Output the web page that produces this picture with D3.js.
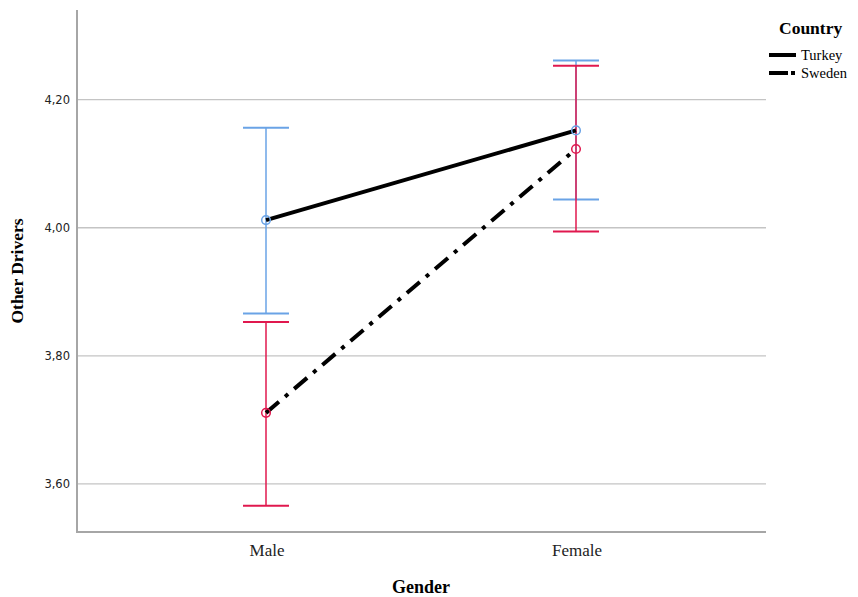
<!DOCTYPE html>
<html>
<head>
<meta charset="utf-8">
<script src="https://cdn.jsdelivr.net/npm/d3@7"></script>
<style>
  body { margin: 0; background: #fff; }
</style>
</head>
<body>
<script>
// data
const genders = ["Male", "Female"];
const countries = ["Turkey", "Sweden"];
const turkeyMean = [4.012, 4.152];
const turkeyLow = [3.866, 4.044];
const turkeyHigh = [4.156, 4.261];
const swedenMean = [3.711, 4.123];
const swedenLow = [3.566, 3.994];
const swedenHigh = [3.853, 4.253];
const yTicks = [3.6, 3.8, 4.0, 4.2];

const width = 858;
const height = 597;

const svg = d3.select("body")
  .append("svg")
  .attr("width", width)
  .attr("height", height);

// scales
const x = d3.scalePoint()
  .domain(genders)
  .range([266, 576]);

const y = d3.scaleLinear()
  .domain([3.525, 4.340])
  .range([532, 10]);

// gridlines
svg.append("g")
  .selectAll("line")
  .data(yTicks)
  .join("line")
  .attr("x1", 77)
  .attr("x2", 766)
  .attr("y1", d => y(d))
  .attr("y2", d => y(d))
  .style("stroke", "#c4c4c4")
  .style("stroke-width", 1.3);

// axes lines
svg.append("line")
  .attr("x1", 77).attr("x2", 77)
  .attr("y1", 10).attr("y2", 532)
  .style("stroke", "#a6a6a6")
  .style("stroke-width", 2);
svg.append("line")
  .attr("x1", 76).attr("x2", 766)
  .attr("y1", 532).attr("y2", 532)
  .style("stroke", "#a6a6a6")
  .style("stroke-width", 2);

// y tick labels
svg.append("g")
  .selectAll("text")
  .data(yTicks)
  .join("text")
  .attr("x", 70)
  .attr("y", d => y(d) + 4)
  .attr("text-anchor", "end")
  .style("font-family", "DejaVu Sans, sans-serif")
  .style("font-size", "11.5px")
  .style("fill", "#222")
  .text(d => d3.format(".2f")(d).replace(".", ","));

// x tick labels
svg.append("g")
  .selectAll("text")
  .data(genders)
  .join("text")
  .attr("x", d => x(d) + 1)
  .attr("y", 556)
  .attr("text-anchor", "middle")
  .style("font-family", "Liberation Serif, serif")
  .style("font-size", "17px")
  .style("fill", "#222")
  .text(d => d);

// axis titles
svg.append("text")
  .attr("x", 421)
  .attr("y", 593)
  .attr("text-anchor", "middle")
  .style("font-family", "Liberation Serif, serif")
  .style("font-size", "18px")
  .style("font-weight", "bold")
  .text("Gender");

svg.append("text")
  .attr("transform", "translate(23,271) rotate(-90)")
  .attr("text-anchor", "middle")
  .style("font-family", "Liberation Serif, serif")
  .style("font-size", "17.5px")
  .style("font-weight", "bold")
  .text("Other Drivers");

const series = [
  { name: "Turkey", mean: turkeyMean, low: turkeyLow, high: turkeyHigh, color: "#6aa3e6", dash: null },
  { name: "Sweden", mean: swedenMean, low: swedenLow, high: swedenHigh, color: "#e0184e", dash: "17,8,4,8" }
];

const capW = 23;

// error bars
series.forEach(s => {
  const g = svg.append("g");
  genders.forEach((gname, i) => {
    g.append("line")
      .attr("x1", x(gname)).attr("x2", x(gname))
      .attr("y1", y(s.low[i])).attr("y2", y(s.high[i]))
      .style("stroke", s.color)
      .style("stroke-width", 1.5);
    [s.low[i], s.high[i]].forEach(v => {
      g.append("line")
        .attr("x1", x(gname) - capW).attr("x2", x(gname) + capW)
        .attr("y1", y(v)).attr("y2", y(v))
        .style("stroke", s.color)
        .style("stroke-width", 2);
    });
  });
});

// mean lines
const line = d3.line()
  .x((d, i) => x(genders[i]))
  .y(d => y(d));

series.forEach(s => {
  svg.append("path")
    .datum(s.mean)
    .attr("d", line)
    .style("fill", "none")
    .style("stroke", "#000")
    .style("stroke-width", 4)
    .style("stroke-dasharray", s.dash);
});

// markers
series.forEach(s => {
  svg.append("g")
    .selectAll("circle")
    .data(s.mean)
    .join("circle")
    .attr("cx", (d, i) => x(genders[i]))
    .attr("cy", d => y(d))
    .attr("r", 4.3)
    .style("fill", "none")
    .style("stroke", s.color)
    .style("stroke-width", 1.5);
});

// legend
svg.append("text")
  .attr("x", 779)
  .attr("y", 34)
  .style("font-family", "Liberation Serif, serif")
  .style("font-size", "17.5px")
  .style("font-weight", "bold")
  .text("Country");

const legend = svg.append("g")
  .selectAll("g")
  .data(series)
  .join("g")
  .attr("transform", (d, i) => `translate(769,${55 + i * 18})`);

legend.append("line")
  .attr("x1", 0).attr("x2", 27)
  .attr("y1", 0).attr("y2", 0)
  .style("stroke", "#000")
  .style("stroke-width", 4)
  .style("stroke-dasharray", d => d.dash ? "19,3,4,8" : null);

legend.append("text")
  .attr("x", 32)
  .attr("y", 4.5)
  .style("font-family", "Liberation Serif, serif")
  .style("font-size", "14.5px")
  .text(d => d.name);
</script>
</body>
</html>
